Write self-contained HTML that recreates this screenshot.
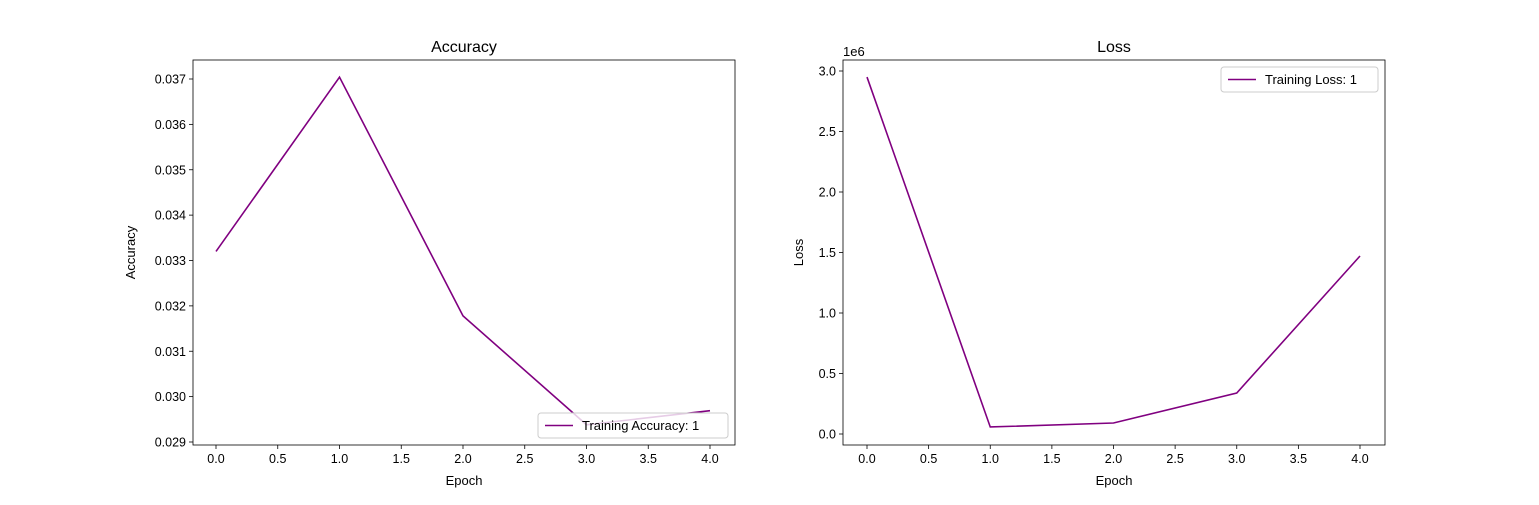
<!DOCTYPE html>
<html><head><meta charset="utf-8"><style>
body{margin:0;background:#fff;}
svg text{font-family:"Liberation Sans","DejaVu Sans",sans-serif;}
</style></head><body>
<svg id="chart" width="1539" height="500" xmlns="http://www.w3.org/2000/svg"></svg>
<script>
const epochs=[0,1,2,3,4];
const accValues=[0.0332,0.03704,0.03178,0.02938,0.02969];
const lossValues=[2.95e6,0.058e6,0.091e6,0.339e6,1.471e6];
const xTicks=[0,0.5,1,1.5,2,2.5,3,3.5,4];
const xTickLabels=["0.0","0.5","1.0","1.5","2.0","2.5","3.0","3.5","4.0"];
const accTicks=[0.029,0.030,0.031,0.032,0.033,0.034,0.035,0.036,0.037];
const accTickLabels=["0.029","0.030","0.031","0.032","0.033","0.034","0.035","0.036","0.037"];
const lossTicks=[0,0.5e6,1e6,1.5e6,2e6,2.5e6,3e6];
const lossTickLabels=["0.0","0.5","1.0","1.5","2.0","2.5","3.0"];
const NS="http://www.w3.org/2000/svg";
const svg=document.getElementById('chart');
function mk(tag,at,parent){const e=document.createElementNS(NS,tag);for(const k in at)e.setAttribute(k,at[k]);(parent||svg).appendChild(e);return e;}
function panel(o){
  const g=mk('g',{});
  
  
  const xs=v=>o.x0+(v-0)/(4-0)*(o.x1-o.x0);
  const ys=v=>o.yA+(v-o.vA)/(o.vB-o.vA)*(o.yB-o.yA);
  // ticks
  xTicks.forEach((t,i)=>{const x=xs(t);
    mk('line',{x1:x,x2:x,y1:o.bottom,y2:o.bottom+4,stroke:'#000','stroke-width':0.8},g);
    const tx=mk('text',{x:x,y:o.bottom+18,'font-size':12.5,'text-anchor':'middle'},g);tx.textContent=xTickLabels[i];
    
    });
  o.yt.forEach((t,i)=>{const y=ys(t);
    mk('line',{x1:o.left-4,x2:o.left,y1:y,y2:y,stroke:'#000','stroke-width':0.8},g);
    const tx=mk('text',{x:o.left-7,y:y+4.5,'font-size':12.5,'text-anchor':'end'},g);tx.textContent=o.ytl[i];
    
    });
  const pts=epochs.map((e,i)=>xs(e)+','+ys(o.vals[i])).join(' ');
  const pl=mk('polyline',{points:pts,fill:'none',stroke:'#800080','stroke-width':1.6},g);
  
  
  mk('rect',{x:o.left,y:o.top,width:o.right-o.left,height:o.bottom-o.top,fill:'none',stroke:'#000','stroke-width':0.8},g);
  const ti=mk('text',{x:(o.left+o.right)/2,y:o.top-8,'font-size':16,'text-anchor':'middle'},g);ti.textContent=o.title;
  
  
  const xl=mk('text',{x:(o.left+o.right)/2,y:485,'font-size':13,'text-anchor':'middle'},g);xl.textContent='Epoch';
  
  
  const yl=mk('text',{x:0,y:0,'font-size':13,'text-anchor':'middle',transform:`translate(${o.ylx},${(o.top+o.bottom)/2}) rotate(-90)`},g);yl.textContent=o.ylabel;
  
  
  const lg=mk('g',{},g);
  
  
  mk('rect',{x:o.lg[0],y:o.lg[1],width:o.lg[2],height:25,rx:3,fill:'#fff','fill-opacity':0.8,stroke:'#ccc'},lg);
  mk('line',{x1:o.lg[0]+7,x2:o.lg[0]+35,y1:o.lg[1]+12.5,y2:o.lg[1]+12.5,stroke:'#800080','stroke-width':1.6},lg);
  const lt=mk('text',{x:o.lg[0]+44,y:o.lg[1]+17,'font-size':13},lg);lt.textContent=o.lgText;
  if(o.mult){const m=mk('text',{x:o.left,y:o.top-4,'font-size':13},g);m.textContent='1e6';
    
    }
}
panel({name:'accuracy-panel',series:'accuracy-line',left:193,right:735,top:60,bottom:445,x0:216,x1:710,yA:79,vA:0.037,yB:442,vB:0.029,
  vals:accValues,yt:accTicks,ytl:accTickLabels,title:'Accuracy',ylabel:'Accuracy',ylx:135,lg:[538,413,190],lgText:'Training Accuracy: 1'});
panel({name:'loss-panel',series:'loss-line',left:843,right:1385,top:60,bottom:445,x0:867,x1:1360,yA:434,vA:0,yB:71,vB:3e6,
  vals:lossValues,yt:lossTicks,ytl:lossTickLabels,title:'Loss',ylabel:'Loss',ylx:803,lg:[1221,67,157],lgText:'Training Loss: 1',mult:true});
</script>
</body></html>
